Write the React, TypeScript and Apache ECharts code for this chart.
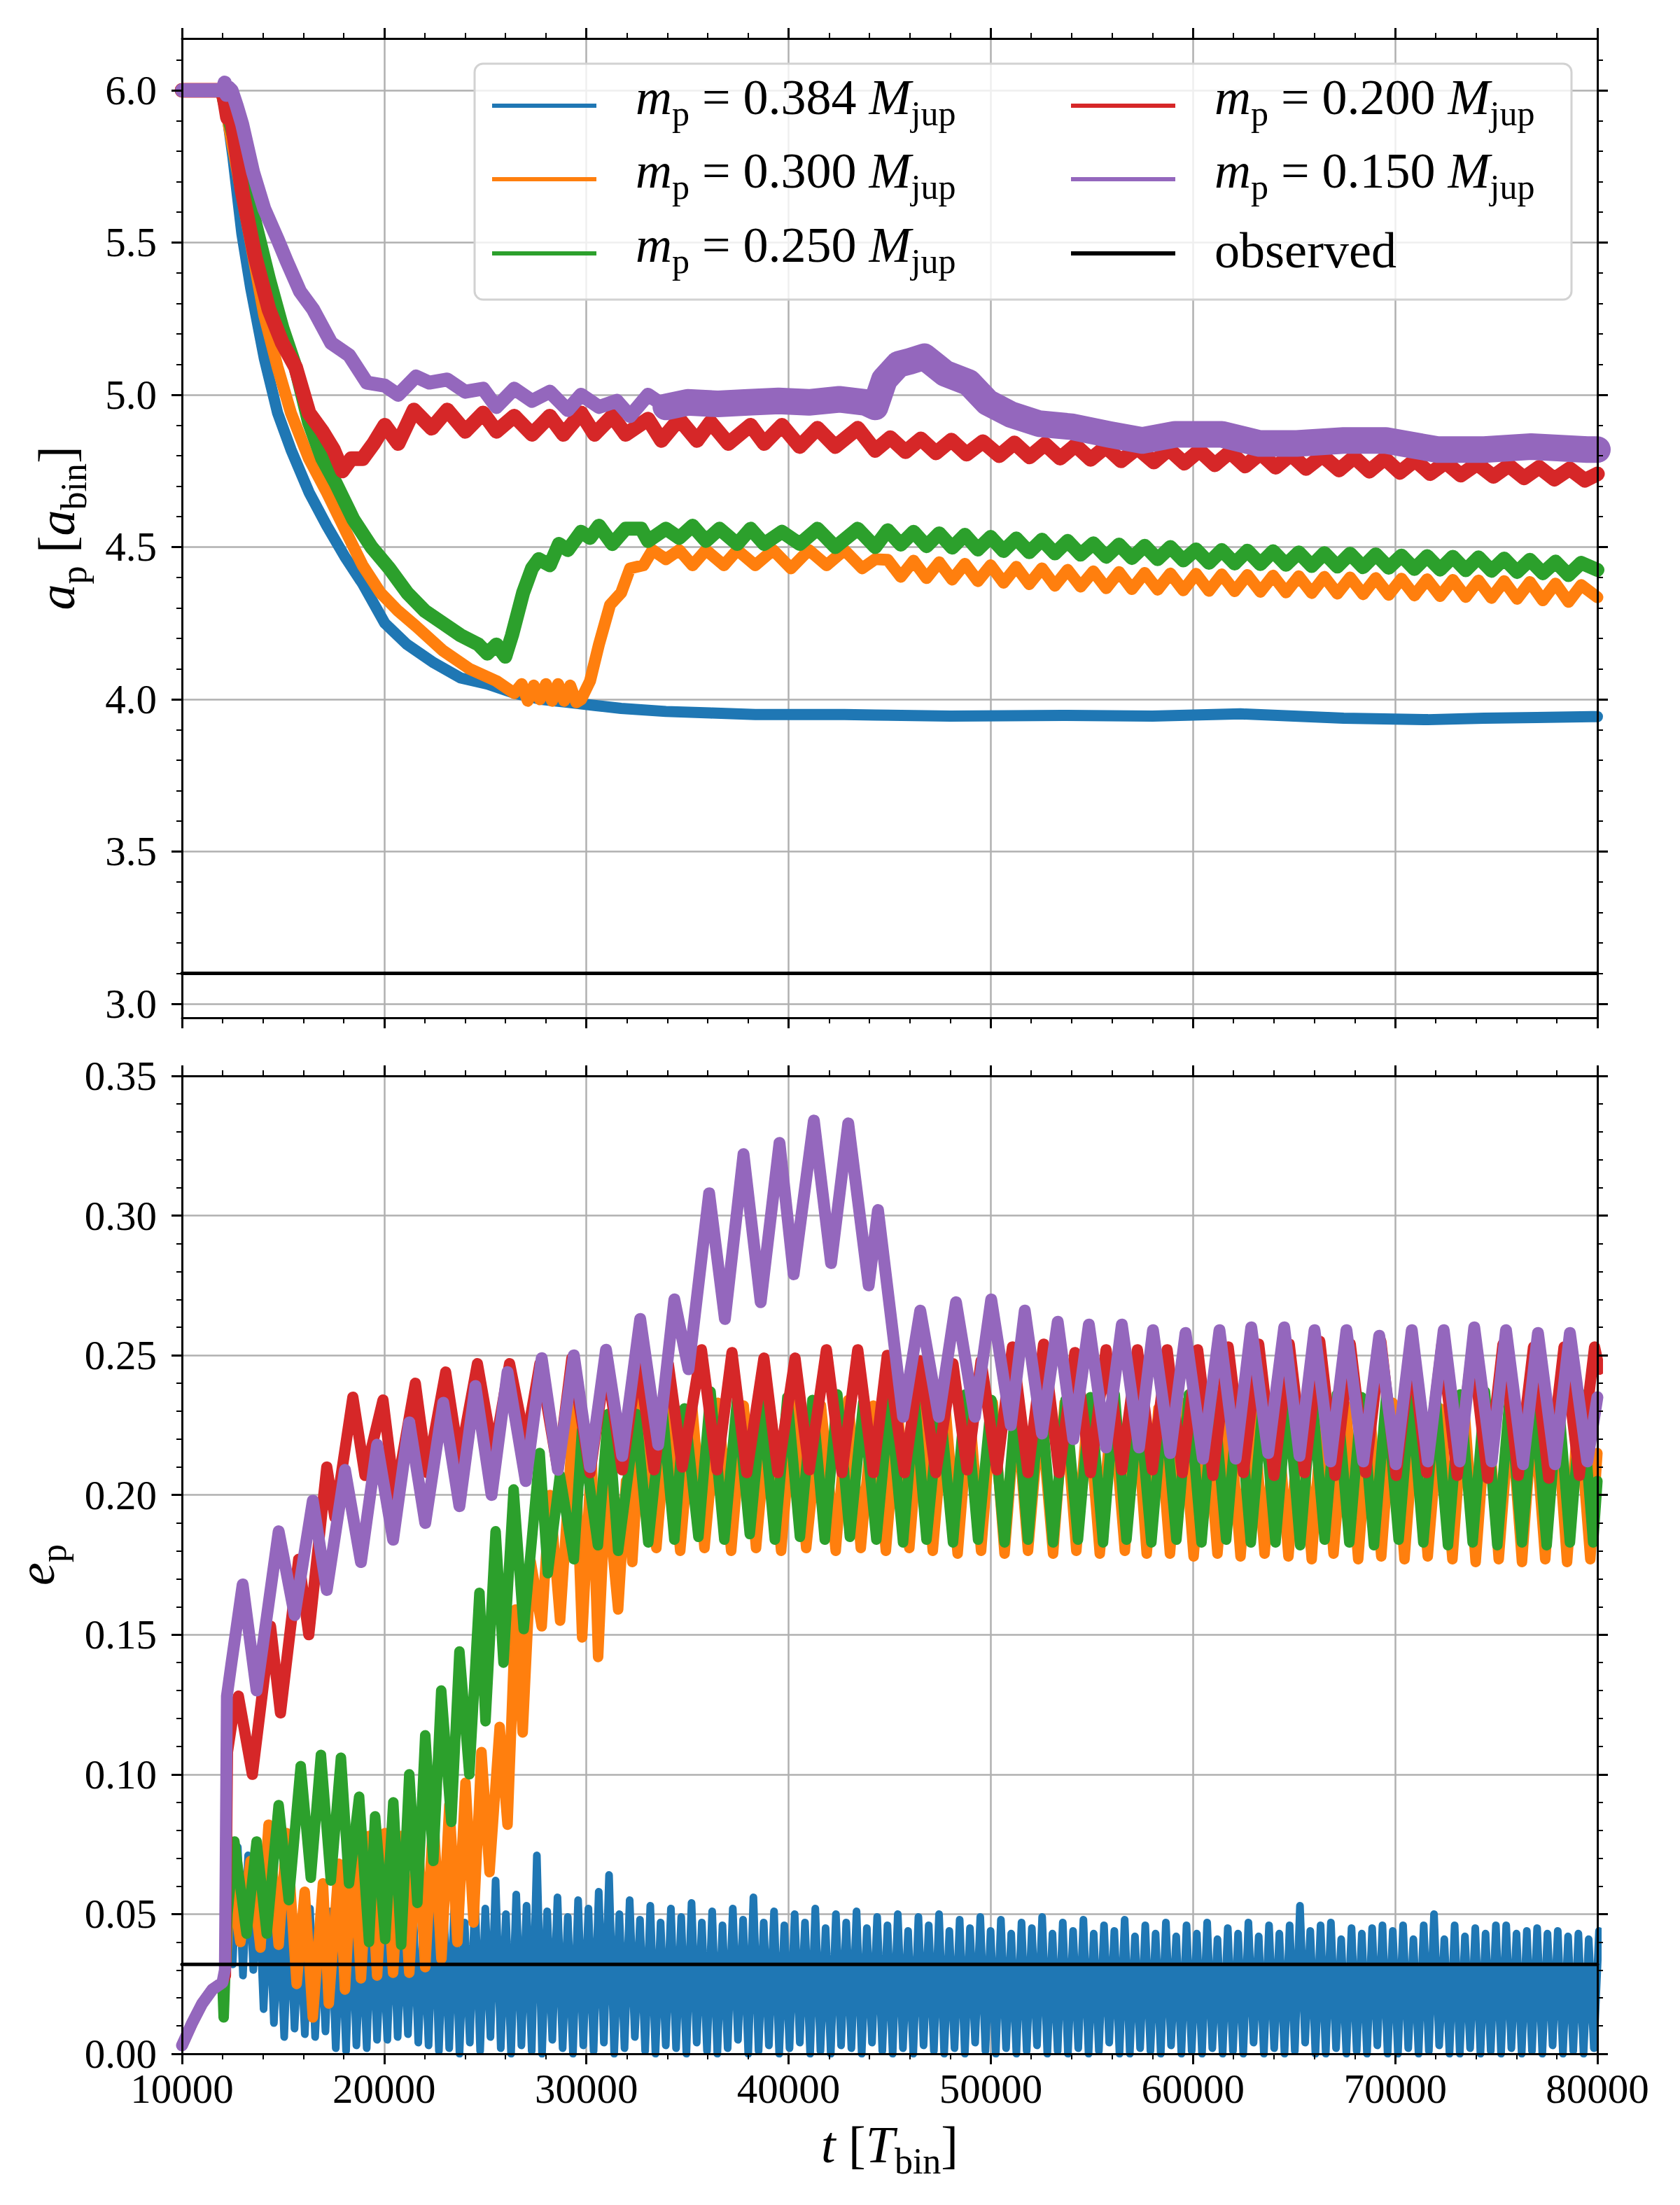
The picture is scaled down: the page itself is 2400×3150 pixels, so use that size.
import React, { useEffect, useRef } from "react";
import * as echarts from "echarts";

const FONT = "'Liberation Serif', 'DejaVu Serif', serif";

// ---------- categories / labels ----------
const seriesColors = ["#1f77b4", "#ff7f0e", "#2ca02c", "#d62728", "#9467bd"];
const massValues = ["0.384", "0.300", "0.250", "0.200", "0.150"];
const observedLabel = "observed";

// ---------- axes ----------
const tMin = 10000;
const tMax = 80000;
const tStep = 10000;
const aMin = 2.954;
const aMax = 6.17;
const aTickValues = [3.0, 3.5, 4.0, 4.5, 5.0, 5.5, 6.0];
const eMin = 0;
const eMax = 0.35;
const eStep = 0.05;

// ---------- observed values ----------
const observedA = 3.1;
const observedE = 0.032;

// ---------- a_p  [t, a] ----------
const aBlue = [[10000,6.0],[12000,6.0],[12190,5.94],[12520,5.78],[12960,5.53],[13400,5.35],[14070,5.12],[14730,4.94],[15390,4.82],[16280,4.68],[17160,4.57],[18040,4.47],[18930,4.38],[20030,4.25],[21130,4.18],[22450,4.12],[23780,4.07],[25100,4.05],[26430,4.02],[27750,4.0],[29080,3.99],[30400,3.98],[31720,3.97],[33930,3.96],[36140,3.955],[38350,3.95],[40550,3.95],[42760,3.95],[44280,3.948],[48000,3.945],[53540,3.947],[58000,3.945],[62350,3.952],[65000,3.945],[67450,3.938],[71620,3.933],[74400,3.938],[77000,3.94],[79730,3.943],[80000,3.943]];

const aOrange = [[10000,6.0],[12000,6.0],[12080,5.97],[12750,5.73],[13400,5.5],[14070,5.26],[14730,5.09],[15390,4.94],[16280,4.79],[17160,4.68],[18040,4.56],[18930,4.44],[19810,4.35],[20690,4.29],[21570,4.24],[22900,4.16],[24220,4.1],[25550,4.06],[26430,4.02],[26800,4.05],[27100,3.995],[27400,4.045],[27700,4.0],[28000,4.05],[28300,3.995],[28600,4.05],[28900,3.995],[29200,4.045],[29500,3.99],[29740,4.0],[30180,4.06],[30620,4.18],[31170,4.31],[31720,4.35],[32160,4.43],[32820,4.44],[33270,4.49],[33930,4.46],[34590,4.49],[35250,4.44],[35910,4.49],[36800,4.44],[37460,4.49],[38350,4.44],[39230,4.49],[40120,4.43],[41000,4.49],[41880,4.44],[42760,4.49],[43640,4.43],[44280,4.46],[44900,4.458],[45550,4.402],[46180,4.455],[46820,4.398],[47450,4.45],[48090,4.393],[48720,4.445],[49360,4.388],[49990,4.44],[50630,4.383],[51260,4.435],[51900,4.378],[52530,4.43],[53170,4.373],[53800,4.425],[54440,4.37],[55070,4.42],[55710,4.365],[56340,4.418],[56980,4.362],[57610,4.415],[58250,4.36],[58880,4.413],[59520,4.358],[60150,4.412],[60790,4.356],[61420,4.41],[62060,4.355],[62690,4.408],[63330,4.353],[63960,4.406],[64600,4.351],[65230,4.404],[65870,4.349],[66500,4.402],[67140,4.347],[67770,4.4],[68410,4.345],[69040,4.398],[69680,4.343],[70310,4.396],[70950,4.341],[71580,4.394],[72220,4.339],[72850,4.392],[73490,4.336],[74120,4.39],[74760,4.333],[75390,4.388],[76030,4.33],[76660,4.385],[77300,4.325],[77930,4.38],[78570,4.32],[79200,4.375],[80000,4.335]];

const aGreen = [[10000,6.0],[12000,6.0],[12080,5.97],[12970,5.75],[13630,5.56],[14300,5.38],[14960,5.22],[15620,5.09],[16280,4.91],[16940,4.79],[17600,4.71],[18480,4.59],[19370,4.5],[20250,4.43],[21130,4.35],[22010,4.29],[22900,4.25],[23780,4.21],[24660,4.18],[25100,4.15],[25550,4.18],[25990,4.14],[26320,4.21],[26870,4.35],[27310,4.43],[27640,4.46],[28190,4.44],[28640,4.51],[29080,4.49],[29740,4.55],[30180,4.53],[30620,4.57],[31280,4.51],[31940,4.56],[32710,4.56],[33050,4.52],[33930,4.56],[34590,4.53],[35250,4.57],[35910,4.52],[36580,4.56],[37460,4.51],[38120,4.56],[38790,4.51],[39670,4.55],[40550,4.51],[41430,4.56],[42310,4.5],[43420,4.56],[44280,4.5],[44900,4.555],[45550,4.508],[46180,4.55],[46820,4.503],[47450,4.545],[48090,4.498],[48720,4.54],[49360,4.492],[49990,4.533],[50630,4.487],[51260,4.528],[51900,4.483],[52530,4.524],[53170,4.479],[53800,4.52],[54440,4.475],[55070,4.512],[55710,4.468],[56340,4.508],[56980,4.464],[57610,4.504],[58250,4.46],[58880,4.5],[59520,4.456],[60150,4.492],[60790,4.448],[61420,4.49],[62060,4.446],[62690,4.488],[63330,4.444],[63960,4.486],[64600,4.442],[65230,4.482],[65870,4.438],[66500,4.48],[67140,4.436],[67770,4.478],[68410,4.434],[69040,4.476],[69680,4.432],[70310,4.472],[70950,4.428],[71580,4.47],[72220,4.426],[72850,4.468],[73490,4.424],[74120,4.466],[74760,4.422],[75390,4.462],[76030,4.418],[76660,4.458],[77300,4.414],[77930,4.452],[78570,4.408],[79200,4.448],[80000,4.425]];

const aRed = [[10000,6.0],[12000,6.0],[12100,5.97],[12250,5.91],[12400,5.93],[12970,5.67],[13630,5.45],[14300,5.28],[14960,5.17],[15620,5.09],[16280,4.94],[16940,4.88],[17490,4.82],[17930,4.75],[18370,4.79],[18930,4.79],[19480,4.84],[20030,4.9],[20690,4.84],[21470,4.95],[22350,4.89],[23120,4.95],[24010,4.88],[24890,4.94],[25550,4.88],[26430,4.93],[27310,4.87],[28190,4.93],[28860,4.87],[29740,4.94],[30400,4.87],[31280,4.93],[31940,4.87],[33050,4.92],[33710,4.85],[34590,4.92],[35470,4.85],[36140,4.91],[37020,4.84],[38120,4.9],[38790,4.84],[39670,4.9],[40550,4.83],[41430,4.89],[42310,4.83],[43420,4.89],[44280,4.817],[45030,4.859],[45780,4.813],[46540,4.855],[47290,4.809],[48050,4.851],[48800,4.805],[49610,4.846],[50420,4.8],[51170,4.842],[51920,4.796],[52680,4.838],[53430,4.792],[54190,4.834],[54940,4.788],[55690,4.829],[56440,4.783],[57250,4.825],[58060,4.779],[58810,4.821],[59570,4.775],[60320,4.817],[61080,4.77],[61830,4.812],[62580,4.766],[63340,4.808],[64090,4.762],[64840,4.804],[65590,4.758],[66400,4.8],[67220,4.753],[67970,4.795],[68720,4.749],[69480,4.791],[70230,4.745],[70980,4.785],[71730,4.741],[72490,4.778],[73240,4.736],[74050,4.773],[74860,4.732],[75610,4.768],[76370,4.727],[77120,4.762],[77870,4.723],[78630,4.757],[79380,4.719],[80000,4.74]];

const aPurpleEarly = [[10000,6.0],[12000,6.0],[12110,6.025],[12190,5.985],[12290,6.01],[12450,6.0],[12700,5.95],[12970,5.89],[13520,5.73],[14070,5.61],[14730,5.51],[15170,5.44],[15830,5.34],[16490,5.28],[17380,5.17],[18260,5.13],[19140,5.04],[20030,5.03],[20690,5.0],[21570,5.06],[22230,5.04],[23120,5.05],[24000,5.01],[24890,5.02],[25550,4.96],[26430,5.02],[27310,4.98],[28190,5.01],[29080,4.95],[29740,5.0],[30620,4.96],[31500,4.98],[32160,4.93],[33050,5.0],[33930,4.96]];

const aPurpleLate = [[33930,4.96],[35000,4.975],[36500,4.97],[38000,4.975],[39500,4.98],[41000,4.975],[42500,4.985],[43800,4.975],[44280,4.96],[44740,5.05],[45430,5.1],[46000,5.11],[46710,5.125],[47750,5.07],[48910,5.04],[49840,4.975],[51000,4.935],[52390,4.905],[54000,4.895],[55860,4.87],[57490,4.85],[59110,4.87],[61430,4.87],[63280,4.84],[65130,4.84],[67450,4.85],[69540,4.85],[72090,4.82],[74400,4.82],[76720,4.83],[79500,4.82],[80000,4.82]];

// ---------- e_p  [t, e] ----------
const eShared = [[10000,0.003],[10500,0.011],[11000,0.018],[11500,0.023],[12000,0.0255]];

const eBlueStartT = 12250;
const eBlueHalfPeriod = 255;
const eBluePeaks = [
  0.066,0.074,0.071,0.060,0.057,0.050,0.055,0.047,0.052,0.046,
  0.051,0.048,0.056,0.046,0.052,0.045,0.054,0.049,0.052,0.046,
  0.058,0.050,0.055,0.047,0.056,0.052,0.062,0.050,0.057,0.053,
  0.071,0.051,0.056,0.049,0.055,0.052,0.058,0.064,0.050,0.055,
  0.048,0.053,0.047,0.052,0.049,0.054,0.047,0.051,0.046,0.052,
  0.048,0.056,0.047,0.051,0.046,0.050,0.047,0.052,0.045,0.050,
  0.047,0.051,0.045,0.049,0.046,0.050,0.044,0.049,0.046,0.050,
  0.044,0.048,0.045,0.049,0.044,0.048,0.043,0.047,0.045,0.049,
  0.043,0.047,0.044,0.048,0.043,0.046,0.044,0.048,0.042,0.046,
  0.043,0.047,0.042,0.046,0.043,0.047,0.041,0.045,0.043,0.047,
  0.042,0.046,0.043,0.046,0.053,0.044,0.046,0.047,0.041,0.045,
  0.043,0.045,0.046,0.044,0.046,0.041,0.046,0.050,0.041,0.046,
  0.042,0.045,0.043,0.046,0.046,0.043,0.044,0.045,0.043,0.044,
  0.042,0.043,0.041,0.044
];
const eBlueTroughs = [
  0.032,0.028,0.030,0.016,0.011,0.006,0.009,0.007,0.006,0.008,
  0.002,0.001,0.003,0.002,0.005,0.005,0.006,0.007,0.004,0.003,
  0.001,0.002,0.000,0.004,0.001,0.006,0.002,0.000,0.003,0.001,
  0.000,0.005,0.002,0.000,0.003,0.001,0.004,0.000,0.002,0.006,
  0.001,0.000,0.003,0.002,0.000,0.004,0.001,0.000,0.002,0.005,
  0.000,0.001,0.003,0.000,0.002,0.004,0.000,0.001,0.000,0.003,
  0.002,0.000,0.004,0.001,0.000,0.002,0.000,0.003,0.001,0.000,
  0.002,0.000,0.004,0.001,0.000,0.002,0.000,0.001,0.003,0.000,
  0.001,0.000,0.002,0.000,0.001,0.004,0.000,0.000,0.002,0.001,
  0.000,0.003,0.000,0.001,0.000,0.002,0.000,0.001,0.000,0.004,
  0.000,0.002,0.000,0.001,0.004,0.000,0.000,0.002,0.000,0.001,
  0.000,0.003,0.000,0.000,0.002,0.000,0.001,0.003,0.000,0.000,
  0.002,0.000,0.001,0.000,0.002,0.000,0.001,0.000,0.003,0.000,
  0.001,0.000,0.002
];

const eOrange = [[12150,0.028],[12300,0.052],[12490,0.060],[12890,0.040],[13390,0.069],[13880,0.038],[14280,0.082],[14780,0.039],[15180,0.079],[15670,0.025],[16070,0.058],[16470,0.013],[16970,0.061],[17260,0.018],[17760,0.068],[18060,0.023],[18450,0.074],[18850,0.027],[19250,0.078],[19650,0.028],[20040,0.079],[20440,0.029],[20840,0.078],[21240,0.029],[21640,0.080],[22030,0.031],[22430,0.085],[22830,0.034],[23220,0.089],[23620,0.040],[24020,0.097],[24420,0.047],[24810,0.108],[25210,0.065],[25710,0.117],[26100,0.082],[26500,0.159],[26850,0.115],[27250,0.176],[27790,0.153],[28190,0.200],[28700,0.155],[29380,0.231],[29790,0.149],[30250,0.215],[30580,0.142],[30970,0.205],[31570,0.159],[31960,0.205],[32270,0.176],[32760,0.234],[33460,0.181],[34050,0.232],[34640,0.180],[35240,0.231],[35840,0.181],[36500,0.233],[37160,0.180],[37780,0.232],[38390,0.181],[39010,0.231],[39630,0.180],[40250,0.233],[40870,0.181],[41600,0.232],[42330,0.180],[42950,0.234],[43570,0.181],[44190,0.232],[44810,0.180],[45390,0.231],[45970,0.181],[46550,0.233],[47130,0.180],[47750,0.232],[48360,0.179],[48940,0.231],[49520,0.180],[50100,0.233],[50680,0.179],[51260,0.232],[51840,0.180],[52460,0.231],[53080,0.179],[53650,0.233],[54230,0.180],[54810,0.232],[55390,0.179],[56010,0.234],[56630,0.180],[57170,0.232],[57710,0.179],[58290,0.231],[58860,0.179],[59450,0.233],[60030,0.178],[60620,0.232],[61210,0.179],[61780,0.231],[62350,0.178],[62950,0.233],[63540,0.179],[64130,0.232],[64720,0.178],[65300,0.231],[65870,0.177],[66410,0.233],[66950,0.179],[67560,0.232],[68170,0.177],[68740,0.231],[69310,0.178],[69880,0.233],[70460,0.177],[71030,0.232],[71610,0.178],[72220,0.231],[72830,0.177],[73400,0.233],[73980,0.176],[74550,0.232],[75120,0.177],[75700,0.231],[76270,0.176],[76840,0.232],[77420,0.177],[77960,0.230],[78500,0.176],[79070,0.231],[79650,0.177],[80000,0.215]];

const eGreen = [[12060,0.013],[12250,0.050],[12590,0.076],[13190,0.043],[13690,0.076],[14190,0.043],[14780,0.089],[15280,0.055],[15870,0.103],[16370,0.063],[16870,0.107],[17360,0.062],[17860,0.106],[18260,0.061],[18760,0.092],[19250,0.040],[19550,0.085],[20050,0.041],[20450,0.090],[20840,0.039],[21240,0.100],[21640,0.054],[22030,0.114],[22430,0.069],[22820,0.130],[23320,0.083],[23720,0.144],[24210,0.100],[24710,0.165],[25010,0.119],[25510,0.187],[25900,0.140],[26400,0.202],[26900,0.152],[27690,0.215],[28090,0.172],[28690,0.207],[29380,0.177],[29780,0.223],[30570,0.182],[31070,0.229],[31570,0.180],[32460,0.229],[33060,0.183],[33760,0.231],[34350,0.184],[34850,0.231],[35540,0.185],[36140,0.237],[36820,0.184],[37450,0.234],[38080,0.186],[38700,0.233],[39320,0.184],[39940,0.235],[40560,0.185],[41180,0.234],[41790,0.184],[42410,0.236],[43030,0.185],[43690,0.233],[44340,0.184],[45000,0.235],[45660,0.183],[46240,0.234],[46820,0.184],[47480,0.233],[48130,0.183],[48750,0.236],[49370,0.184],[50030,0.234],[50680,0.183],[51260,0.235],[51840,0.184],[52460,0.236],[53080,0.183],[53700,0.234],[54310,0.184],[54930,0.235],[55550,0.183],[56130,0.236],[56710,0.184],[57320,0.234],[57940,0.183],[58560,0.235],[59180,0.184],[59800,0.236],[60420,0.183],[61030,0.235],[61640,0.184],[62250,0.236],[62860,0.183],[63470,0.234],[64080,0.183],[64690,0.236],[65300,0.182],[65900,0.235],[66510,0.184],[67120,0.236],[67730,0.183],[68340,0.235],[68950,0.182],[69560,0.236],[70170,0.184],[70780,0.237],[71390,0.183],[72000,0.235],[72610,0.182],[73220,0.236],[73830,0.183],[74440,0.237],[75050,0.182],[75660,0.235],[76270,0.183],[76880,0.236],[77490,0.182],[78070,0.235],[78640,0.183],[79220,0.236],[79790,0.183],[80000,0.205]];

const eRed = [[12150,0.028],[12250,0.108],[12500,0.120],[12790,0.128],[13480,0.100],[14380,0.153],[14870,0.122],[15770,0.177],[16270,0.150],[17160,0.210],[17560,0.192],[18450,0.235],[19050,0.207],[19940,0.234],[20540,0.199],[21540,0.240],[22130,0.208],[23040,0.244],[23720,0.212],[24610,0.247],[25410,0.214],[26200,0.247],[27000,0.218],[27700,0.247],[28590,0.209],[29280,0.249],[30180,0.208],[30970,0.248],[31770,0.209],[32560,0.249],[33350,0.209],[34050,0.247],[34740,0.210],[35690,0.252],[36460,0.209],[37200,0.251],[37930,0.208],[38780,0.249],[39470,0.208],[40320,0.249],[41020,0.209],[41870,0.252],[42640,0.208],[43420,0.252],[44190,0.208],[44880,0.250],[45730,0.208],[46510,0.248],[47280,0.208],[48130,0.247],[48830,0.209],[49520,0.248],[50300,0.209],[51070,0.253],[51840,0.208],[52610,0.254],[53380,0.208],[54160,0.251],[54930,0.208],[55700,0.252],[56480,0.209],[57250,0.252],[57990,0.209],[58720,0.252],[59475,0.208],[60230,0.252],[60985,0.207],[61740,0.253],[62495,0.208],[63250,0.254],[64005,0.207],[64760,0.254],[65515,0.208],[66270,0.255],[67025,0.207],[67780,0.254],[68535,0.208],[69290,0.255],[70045,0.207],[70800,0.253],[71555,0.208],[72310,0.254],[73065,0.207],[73820,0.253],[74575,0.206],[75330,0.254],[76085,0.207],[76840,0.253],[77595,0.206],[78350,0.253],[79105,0.207],[79860,0.253],[80100,0.245]];

const ePurple = [[12120,0.030],[12220,0.128],[12450,0.140],[13000,0.168],[13690,0.130],[14780,0.187],[15570,0.157],[16470,0.198],[17160,0.166],[18060,0.209],[18850,0.176],[19650,0.218],[20440,0.184],[21240,0.226],[22030,0.190],[22920,0.233],[23720,0.196],[24510,0.239],[25310,0.200],[26100,0.244],[27000,0.205],[27790,0.249],[28590,0.209],[29380,0.250],[30180,0.210],[30970,0.252],[31770,0.214],[32660,0.263],[33550,0.218],[34350,0.270],[35050,0.245],[36070,0.308],[36850,0.263],[37770,0.322],[38620,0.269],[39550,0.326],[40250,0.279],[41250,0.334],[42100,0.283],[42950,0.333],[43960,0.275],[44420,0.302],[45660,0.228],[46510,0.266],[47430,0.228],[48280,0.269],[49210,0.228],[50020,0.270],[50990,0.225],[51680,0.266],[52530,0.222],[53310,0.262],[54080,0.220],[54850,0.261],[55700,0.217],[56480,0.261],[57330,0.217],[58020,0.259],[58870,0.215],[59630,0.258],[60490,0.213],[61310,0.259],[62110,0.213],[62880,0.260],[63720,0.215],[64510,0.260],[65270,0.214],[66010,0.259],[66800,0.212],[67590,0.259],[68420,0.212],[69210,0.257],[70030,0.211],[70820,0.259],[71610,0.212],[72400,0.259],[73190,0.212],[73910,0.260],[74770,0.212],[75480,0.259],[76320,0.211],[77060,0.258],[77900,0.211],[78640,0.258],[79500,0.212],[80000,0.235]];

// ---------- helpers ----------
function zigzag(peaks: number[], troughs: number[], t0: number, half: number) {
  const out: number[][] = [];
  for (let i = 0; i < peaks.length; i++) {
    out.push([t0 + 2 * i * half, peaks[i]]);
    if (i < troughs.length) out.push([t0 + (2 * i + 1) * half, troughs[i]]);
  }
  return out;
}

const massName = (m: string) => `{i|m}{s|p} = ${m} {i|M}{s|jup}`;

function richStyles(main: number, sub: number, shift: number, lh: number) {
  return {
    i: { fontFamily: FONT, fontSize: main, fontStyle: "italic", color: "#000", fill: "#000", lineHeight: lh },
    n: { fontFamily: FONT, fontSize: main, fontStyle: "normal", color: "#000", fill: "#000", lineHeight: lh },
    s: { fontFamily: FONT, fontSize: sub, fontStyle: "normal", color: "#000", fill: "#000", lineHeight: lh, padding: [shift, 0, 0, 0] },
  };
}

const axisLineStyle = { color: "#000", width: 3 };
const tickLine = { color: "#000", width: 3 };
const minorLine = { color: "#000", width: 2 };
const gridLine = { color: "#b0b0b0", width: 2.5 };
const tickFont = { fontFamily: FONT, fontSize: 59, color: "#000" };

function makeX(gridIndex: number, withLabels: boolean) {
  const base: any = { type: "value", gridIndex, min: tMin, max: tMax, interval: tStep };
  const deco: any = {
    axisLine: { show: true, onZero: false, lineStyle: axisLineStyle },
    axisTick: { show: true, inside: false, length: 15, lineStyle: tickLine },
    minorTick: { show: true, splitNumber: 5, length: 8, lineStyle: minorLine },
    splitLine: { show: false },
    minorSplitLine: { show: false },
  };
  const bottom: any = {
    ...base, ...deco, position: "bottom", z: 6,
    axisLabel: withLabels
      ? { show: true, margin: 20, ...tickFont, formatter: (v: number) => String(Math.round(v)) }
      : { show: false },
  };
  if (withLabels) {
    bottom.name = "{i|t} [{i|T}{s|bin}]";
    bottom.nameLocation = "middle";
    bottom.nameGap = 74;
    bottom.nameTextStyle = { fontFamily: FONT, fontSize: 74, color: "#000", lineHeight: 90, rich: richStyles(74, 52, 48, 90) };
  }
  return [
    { ...base, position: "bottom", z: 0, axisLine: { show: false }, axisTick: { show: false }, axisLabel: { show: false }, splitLine: { show: true, lineStyle: gridLine } },
    bottom,
    { ...base, ...deco, position: "top", z: 6, axisLabel: { show: false } },
  ];
}

function makeY(gridIndex: number, min: number, max: number, opts: any) {
  const base: any = { type: "value", gridIndex, min, max };
  if (opts.interval) base.interval = opts.interval;
  const custom = opts.custom ? { customValues: opts.custom } : {};
  const deco: any = {
    axisLine: { show: true, onZero: false, lineStyle: axisLineStyle },
    axisTick: { show: true, inside: false, length: 15, lineStyle: tickLine, ...custom },
    minorTick: { show: true, splitNumber: 5, length: 8, lineStyle: minorLine },
    splitLine: { show: false },
    minorSplitLine: { show: false },
  };
  const left: any = {
    ...base, ...deco, position: "left", z: 6,
    axisLabel: { show: true, margin: 36, ...tickFont, formatter: opts.fmt, ...custom },
    name: opts.name,
    nameLocation: "middle",
    nameGap: opts.nameGap,
    nameTextStyle: { fontFamily: FONT, fontSize: 74, color: "#000", lineHeight: 90, rich: richStyles(74, 52, 48, 90) },
  };
  return [
    { ...base, position: "left", z: 0, axisLine: { show: false }, axisTick: { show: false, ...custom }, axisLabel: { show: false }, splitLine: { show: true, lineStyle: gridLine } },
    left,
    { ...base, ...deco, position: "right", z: 6, axisLabel: { show: false } },
  ];
}

function line(name: string, data: any[], color: string, width: number, xi: number, yi: number) {
  return {
    type: "line", name, data, xAxisIndex: xi, yAxisIndex: yi,
    showSymbol: false, symbol: "none", silent: true, clip: true, z: 2,
    lineStyle: { color, width, cap: "round", join: "round" },
    itemStyle: { color },
    emphasis: { disabled: true },
  };
}

// ---------- legend (graphic) ----------
const LEG = { x: 678, y: 91, w: 1567, h: 337 };
const legendEntries = [
  { label: massName(massValues[0]), color: seriesColors[0], col: 0, row: 0 },
  { label: massName(massValues[1]), color: seriesColors[1], col: 0, row: 1 },
  { label: massName(massValues[2]), color: seriesColors[2], col: 0, row: 2 },
  { label: massName(massValues[3]), color: seriesColors[3], col: 1, row: 0 },
  { label: massName(massValues[4]), color: seriesColors[4], col: 1, row: 1 },
  { label: observedLabel, color: "#000000", col: 1, row: 2 },
];
const legendColX = [703, 1530];
const legendRowY = [151, 256, 362];

function legendGraphics() {
  const els: any[] = [
    {
      type: "rect", z: 50,
      shape: { x: LEG.x, y: LEG.y, width: LEG.w, height: LEG.h, r: 12 },
      style: { fill: "rgba(255,255,255,0.8)", stroke: "#d2d2d2", lineWidth: 3 },
    },
  ];
  legendEntries.forEach((e) => {
    const lx = legendColX[e.col];
    const ly = legendRowY[e.row];
    els.push({
      type: "line", z: 51,
      shape: { x1: lx, y1: ly, x2: lx + 149, y2: ly },
      style: { stroke: e.color, lineWidth: 6 },
    });
    const isObs = e.label === observedLabel;
    els.push({
      type: "text", z: 52,
      x: lx + 205,
      y: isObs ? ly - 4 : ly - 12,
      style: {
        text: e.label,
        fontFamily: FONT, fontSize: 72, fill: "#000",
        lineHeight: 90,
        align: "left", verticalAlign: "middle",
        rich: richStyles(72, 50, 46, 90),
      },
    });
  });
  return els;
}

export default function App() {
  const ref = useRef<HTMLDivElement>(null);
  useEffect(() => {
    if (!ref.current) return;
    const chart = echarts.init(ref.current, undefined, { renderer: "svg" });

    const eBlue = [...eShared, ...zigzag(eBluePeaks, eBlueTroughs, eBlueStartT, eBlueHalfPeriod)];
    const names = massValues.map(massName);

    const option: any = {
      animation: false,
      backgroundColor: "#ffffff",
      textStyle: { fontFamily: FONT },
      grid: [
        { left: 260, top: 55, width: 2022, height: 1399, containLabel: false, outerBoundsMode: "none" },
        { left: 260, top: 1537, width: 2022, height: 1397, containLabel: false, outerBoundsMode: "none" },
      ],
      xAxis: [...makeX(0, false), ...makeX(1, true)],
      yAxis: [
        ...makeY(0, aMin, aMax, {
          custom: aTickValues,
          fmt: (v: number) => v.toFixed(1),
          name: "{i|a}{s|p} [{i|a}{s|bin}]",
          nameGap: 134,
        }),
        ...makeY(1, eMin, eMax, {
          interval: eStep,
          fmt: (v: number) => v.toFixed(2),
          name: "{i|e}{s|p}",
          nameGap: 163,
        }),
      ],
      series: [
        line(names[0], aBlue, seriesColors[0], 16, 0, 0),
        line(names[1], aOrange, seriesColors[1], 17, 0, 0),
        line(names[2], aGreen, seriesColors[2], 20, 0, 0),
        line(names[3], aRed, seriesColors[3], 21, 0, 0),
        line(names[4], aPurpleEarly, seriesColors[4], 20, 0, 0),
        line(names[4], aPurpleLate, seriesColors[4], 38, 0, 0),
        line(observedLabel, [[tMin, observedA], [tMax, observedA]], "#000000", 5, 0, 0),
        line(names[0], eBlue, seriesColors[0], 11, 3, 3),
        line(names[1], [...eShared, ...eOrange], seriesColors[1], 15, 3, 3),
        line(names[2], [...eShared, ...eGreen], seriesColors[2], 15, 3, 3),
        line(names[3], [...eShared, ...eRed], seriesColors[3], 16, 3, 3),
        line(names[4], [...eShared, ...ePurple], seriesColors[4], 17, 3, 3),
        line(observedLabel, [[tMin, observedE], [tMax, observedE]], "#000000", 5, 3, 3),
      ],
      graphic: { elements: legendGraphics() },
    };
    chart.setOption(option);
    return () => chart.dispose();
  }, []);
  return (
    <div
      ref={ref}
      style={{ position: "absolute", left: 0, top: 0, width: 2400, height: 3150, background: "#fff" }}
    />
  );
}
